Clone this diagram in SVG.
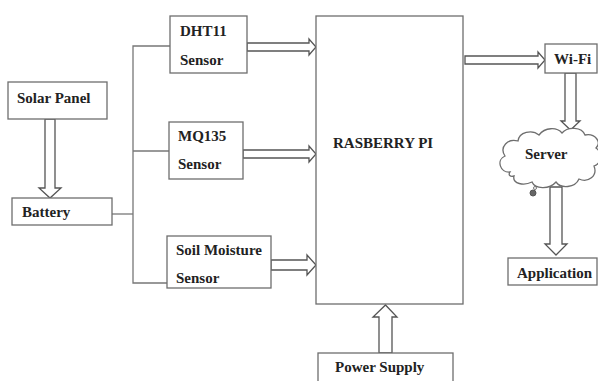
<svg xmlns="http://www.w3.org/2000/svg" width="598" height="381" viewBox="0 0 598 381">
<style>
.box{fill:#fff;stroke:#6e6e6e;stroke-width:1.3}
.arr{fill:#fff;stroke:#555;stroke-width:1.3;stroke-linejoin:miter}
.ln{fill:none;stroke:#777;stroke-width:1.3}
text{font-family:"Liberation Serif","Times New Roman",serif;font-weight:bold;font-size:15px;fill:#222}
</style>
<rect width="598" height="381" fill="#fff"/>
<g id="connectors">
<polyline class="ln" points="170,46 133,46 133,283 167,283"/>
<line class="ln" x1="133" y1="151" x2="169" y2="151"/>
<line class="ln" x1="112" y1="214" x2="133" y2="214"/>
<polygon class="arr" points="45,119 55,119 55,188 61,188 50,198 39,188 45,188"/>
<polygon class="arr" points="247,43 309,43 309,39 316,47 309,55 309,51 247,51"/>
<polygon class="arr" points="243,150 309,150 309,146 316,154 309,162 309,158 243,158"/>
<polygon class="arr" points="271,260 307,260 307,255 316,265 307,275 307,270 271,270"/>
<polygon class="arr" points="465,56 538,56 538,52 545,60 538,68 538,64 465,64"/>
<polygon class="arr" points="565,73 576,73 576,121 580,121 570.5,130 561,121 565,121"/>
<polygon class="arr" points="550,187 562,187 562,244 567,244 556,255 545,244 550,244"/>
<polygon class="arr" points="379,353 392,353 392,317 397,317 385.5,305 373,317 379,317"/>
</g>
<g id="solar"><rect class="box" x="8" y="82" width="99" height="37"/><text x="17" y="103">Solar Panel</text></g>
<g id="battery"><rect class="box" x="12" y="198" width="100" height="27"/><text x="22" y="217">Battery</text></g>
<g id="dht11"><rect class="box" x="170" y="16" width="77" height="57"/><text x="180" y="36">DHT11</text><text x="180" y="65">Sensor</text></g>
<g id="mq135"><rect class="box" x="169" y="122" width="74" height="57"/><text x="178" y="141">MQ135</text><text x="178" y="169">Sensor</text></g>
<g id="soil"><rect class="box" x="167" y="236" width="104" height="52"/><text x="176" y="255">Soil Moisture</text><text x="176" y="283">Sensor</text></g>
<g id="pi"><rect class="box" x="316" y="16" width="147" height="288"/><text x="333" y="148">RASBERRY PI</text></g>
<g id="wifi"><rect class="box" x="545" y="44" width="52" height="29"/><text x="554" y="64">Wi-Fi</text></g>
<g id="server">
<path class="box" d="M510,172 C500,173 496,160 505,156 C499,147 508,138 518,141 C519,132 532,129 539,135 C545,127 557,127 562,133 C568,126 582,127 585,135 C595,133 602,142 596,148 C603,153 601,164 594,166 C598,176 588,183 579,179 C575,188 561,189 556,182 C549,190 535,189 532,182 C524,186 512,184 514,176 C510,177 508,175 510,172 Z"/>
<circle cx="535" cy="188" r="1.5" fill="none" stroke="#777"/>
<circle cx="533" cy="193" r="3" fill="#666" stroke="#555"/>
<text x="525" y="159">Server</text>
</g>
<g id="application"><rect class="box" x="508" y="258" width="89" height="27"/><text x="517" y="278">Application</text></g>
<g id="power"><rect class="box" x="318" y="353" width="135" height="40"/><text x="335" y="372">Power Supply</text></g>
</svg>
